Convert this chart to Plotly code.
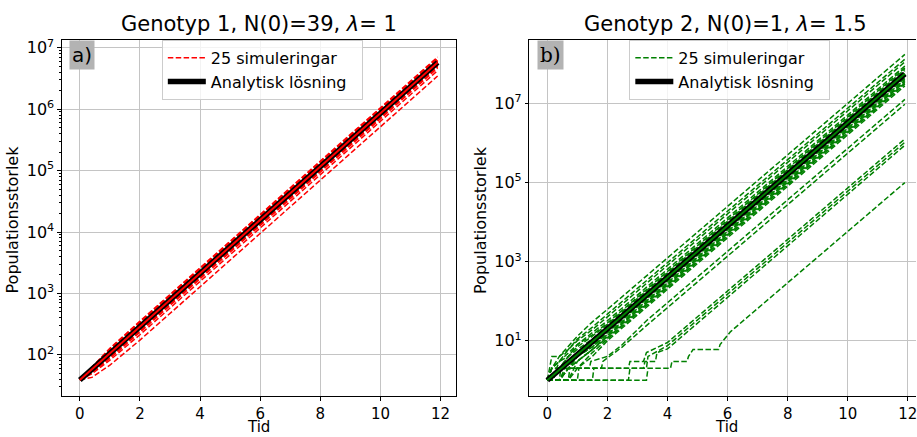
import plotly.graph_objects as go

# ---------------- data ----------------
t_left = [0, 0.4, 1, 2, 11.9]
left_sims = [
    [39, 62, 128, 354, 7.06e6],
    [39, 60, 125, 346, 6.90e6],
    [39, 63, 122, 338, 6.74e6],
    [39, 59, 121, 331, 6.59e6],
    [39, 61, 117, 323, 6.44e6],
    [39, 57, 115, 323, 6.44e6],
    [39, 60, 114, 316, 6.29e6],
    [39, 58, 113, 309, 6.15e6],
    [39, 56, 110, 309, 6.15e6],
    [39, 59, 109, 302, 6.01e6],
    [39, 57, 108, 295, 5.87e6],
    [39, 60, 107, 288, 5.74e6],
    [39, 56, 104, 288, 5.74e6],
    [39, 58, 103, 281, 5.61e6],
    [39, 57, 101, 275, 5.48e6],
    [39, 55, 102, 275, 5.48e6],
    [39, 56, 99, 269, 5.36e6],
    [39, 54, 98, 263, 5.23e6],
    [39, 55, 95, 257, 5.11e6],
    [39, 53, 96, 257, 5.11e6],
    [39, 54, 93, 251, 5.00e6],
    [39, 52, 91, 245, 4.88e6],
    [39, 51, 88, 234, 4.67e6],
    [39, 49, 82, 213, 4.25e6],
    [39, 43, 68, 174, 3.46e6],
]

t_analytic = [0, 11.9]
left_analytic = [39, 5.74e6]
right_analytic = [1, 5.65e7]

t_band = [0, 0.15, 0.4, 0.7, 1.0, 1.5, 2.0, 11.9]
right_band = [
    [1, 2, 4, 7, 13, 30, 62, 1.75e8],
    [1, 4, 4, 6, 11, 22, 47, 1.32e8],
    [1, 2, 3, 6, 10, 19, 40, 1.13e8],
    [1, 1, 3, 5, 8, 16, 32, 8.9e7],
    [1, 2, 2, 4, 8, 14, 28, 8.0e7],
    [1, 1, 2, 4, 7, 13, 26, 7.3e7],
    [1, 2, 3, 4, 6, 11, 24, 6.6e7],
    [1, 1, 2, 3, 5, 10, 22, 6.2e7],
    [1, 1, 2, 3, 5, 10, 20, 5.8e7],
    [1, 2, 2, 3, 4, 9, 19, 5.4e7],
    [1, 1, 1, 3, 4, 8, 18, 5.0e7],
    [1, 1, 2, 2, 4, 8, 17, 4.7e7],
    [1, 1, 1, 2, 4, 7, 16, 4.4e7],
    [1, 1, 2, 3, 4, 7, 14.5, 4.1e7],
    [1, 1, 1, 2, 3, 6, 13.6, 3.8e7],
    [1, 1, 1, 2, 3, 6, 12.7, 3.56e7],
    [1, 1, 1, 1, 3, 6, 11.9, 3.33e7],
    [1, 1, 1, 2, 2, 5, 11, 3.1e7],
    [1, 1, 1, 1, 2, 4, 10, 2.8e7],
]

right_slow_t = [
    [0, 0.7, 0.75, 1.4, 1.45, 2.0, 2.5, 3.3, 11.9],
    [0, 1.0, 1.05, 1.8, 1.85, 2.5, 3.3, 11.9],
    [0, 1.5, 1.55, 2.7, 2.75, 3.2, 3.3, 4.0, 11.9],
    [0, 2.7, 2.75, 3.3, 3.35, 4.0, 11.9],
    [0, 0.4, 0.45, 3.2, 3.25, 3.6, 3.65, 4.0, 11.9],
    [0, 3.3, 3.35, 4.1, 4.15, 4.65, 4.7, 4.85, 5.7, 5.75, 6.1, 11.9],
]
right_slow_n = [
    [1, 1, 2, 2, 3, 4, 8, 32, 1.27e7],
    [1, 1, 2, 2, 3, 7, 24, 9.6e6],
    [1, 1, 2, 2, 3, 3, 5, 9, 1.27e6],
    [1, 1, 2, 2, 4, 7.5, 1.05e6],
    [1, 1, 2, 2, 3, 3, 5, 6.2, 8.8e5],
    [1, 1, 2, 2, 3, 3, 4, 6, 6, 8, 17, 1.0e5],
]

x_ticks = [0, 2, 4, 6, 8, 10, 12]
left_y_exps = [2, 3, 4, 5, 6, 7]
right_y_exps = [1, 3, 5, 7]

titles = ["Genotyp 1, N(0)=39, <i>λ</i>= 1", "Genotyp 2, N(0)=1, <i>λ</i>= 1.5"]
sim_label = "25 simuleringar\u00a0\u00a0"
ana_label = "Analytisk lösning\u00a0\u00a0"

# ---------------- figure ----------------
W, H = 917, 437
FONT = "DejaVu Sans"
RED, GREEN = "#ff0000", "#008000"
DASH = "5.5px,2.4px"

fig = go.Figure()


def add_sims(tlist, ylists, color, xa, ya, leg, first):
    for i, (tt, yy) in enumerate(zip(tlist, ylists)):
        fig.add_trace(go.Scatter(
            x=tt, y=yy, mode="lines", xaxis=xa, yaxis=ya,
            line=dict(color=color, width=1.5, dash=DASH),
            name=sim_label, legend=leg,
            showlegend=(first and i == 0), hoverinfo="skip"))


add_sims([t_left] * len(left_sims), left_sims, RED, "x", "y", "legend", True)
fig.add_trace(go.Scatter(x=t_analytic, y=left_analytic, mode="lines", xaxis="x", yaxis="y",
                         line=dict(color="black", width=5.5), name=ana_label, legend="legend"))
fig.add_trace(go.Scatter(x=t_analytic, y=left_analytic, mode="lines", xaxis="x", yaxis="y",
                         line=dict(color=RED, width=2), showlegend=False, legend="legend"))

add_sims([t_band] * len(right_band), right_band, GREEN, "x2", "y2", "legend2", True)
add_sims(right_slow_t, right_slow_n, GREEN, "x2", "y2", "legend2", False)
fig.add_trace(go.Scatter(x=t_analytic, y=right_analytic, mode="lines", xaxis="x2", yaxis="y2",
                         line=dict(color="black", width=5.5), name=ana_label, legend="legend2"))
fig.add_trace(go.Scatter(x=t_analytic, y=right_analytic, mode="lines", xaxis="x2", yaxis="y2",
                         line=dict(color=GREEN, width=2), showlegend=False, legend="legend2"))

ydom = [1 - 396 / H, 1 - 37 / H]
axis_common = dict(showline=True, linecolor="black", linewidth=1,
                   ticks="outside", ticklen=3.5, tickcolor="black", tickwidth=1,
                   showgrid=True, gridcolor="#c4c4c4", gridwidth=1, zeroline=False,
                   ticklabeloverflow="allow")
xtickfont = dict(family=FONT, size=15, color="black")
ytickfont = dict(family=FONT, size=16, color="black")

left_minor = [k * 10 ** n for n in range(1, 8) for k in range(2, 10)]

fig.update_layout(
    width=W, height=H, margin=dict(l=0, r=0, t=0, b=0),
    paper_bgcolor="white", plot_bgcolor="white",
    font=dict(family=FONT, size=16, color="black"),
    xaxis=dict(domain=[62 / W, 456 / W], range=[-0.595, 12.495], anchor="y", mirror=True,
               tickvals=x_ticks, ticktext=[str(v) for v in x_ticks],
               tickfont=xtickfont, **axis_common),
    yaxis=dict(domain=ydom, type="log", range=[1.326, 7.13], anchor="x", mirror=True,
               tickvals=[10 ** e for e in left_y_exps],
               ticktext=["10<sup>%d</sup>" % e for e in left_y_exps],
               minor=dict(ticks="outside", ticklen=2, tickcolor="black", tickwidth=0.8,
                          tickvals=left_minor, showgrid=False),
               tickfont=ytickfont, **axis_common),
    xaxis2=dict(domain=[530 / W, 1.0], range=[-0.595, -0.595 + 387 / 30.08], anchor="y2", mirror=True,
                tickvals=x_ticks, ticktext=[str(v) for v in x_ticks],
                tickfont=xtickfont, **axis_common),
    yaxis2=dict(domain=ydom, type="log", range=[-0.406, 8.614], anchor="x2", mirror=False,
                tickvals=[10 ** e for e in right_y_exps],
                ticktext=["10<sup>%d</sup>" % e for e in right_y_exps],
                tickfont=ytickfont, **axis_common),
    legend=dict(x=162 / W, y=1 - 37 / H, xanchor="left", yanchor="top",
                bgcolor="rgba(255,255,255,0.8)", bordercolor="#cccccc", borderwidth=1,
                font=dict(family=FONT, size=16, color="black"), itemwidth=38),
    legend2=dict(x=630 / W, y=1 - 37 / H, xanchor="left", yanchor="top",
                 bgcolor="rgba(255,255,255,0.8)", bordercolor="#cccccc", borderwidth=1,
                 font=dict(family=FONT, size=16, color="black"), itemwidth=38),
    showlegend=True,
)

ann = []
# titles
ann.append(dict(text=titles[0], x=259 / W, y=1 - 21 / H, xref="paper", yref="paper",
                xanchor="center", yanchor="middle", showarrow=False,
                font=dict(family=FONT, size=21, color="black")))
ann.append(dict(text=titles[1], x=726.5 / W, y=1 - 21 / H, xref="paper", yref="paper",
                xanchor="center", yanchor="middle", showarrow=False,
                font=dict(family=FONT, size=21, color="black")))
# x-axis titles
ann.append(dict(text="Tid", x=259 / W, y=0, xref="paper", yref="paper",
                xanchor="center", yanchor="bottom", showarrow=False, borderpad=0,
                font=dict(family=FONT, size=15, color="black")))
ann.append(dict(text="Tid", x=727 / W, y=0, xref="paper", yref="paper",
                xanchor="center", yanchor="bottom", showarrow=False, borderpad=0,
                font=dict(family=FONT, size=15, color="black")))
# y-axis titles
ann.append(dict(text="Populationsstorlek", x=13 / W, y=1 - 218 / H, xref="paper", yref="paper",
                xanchor="center", yanchor="middle", textangle=-90, showarrow=False,
                font=dict(family=FONT, size=16, color="black")))
ann.append(dict(text="Populationsstorlek", x=481 / W, y=1 - 218 / H, xref="paper", yref="paper",
                xanchor="center", yanchor="middle", textangle=-90, showarrow=False,
                font=dict(family=FONT, size=16, color="black")))
# panel labels
ann.append(dict(text="a)", x=82 / W, y=1 - 52 / H, xref="paper", yref="paper",
                xanchor="center", yanchor="middle", showarrow=False, bgcolor="#b3b3b3",
                borderpad=2, font=dict(family=FONT, size=20, color="black")))
ann.append(dict(text="b)", x=551 / W, y=1 - 52 / H, xref="paper", yref="paper",
                xanchor="center", yanchor="middle", showarrow=False, bgcolor="#b3b3b3",
                borderpad=2, font=dict(family="DejaVu Serif", size=20, color="black")))
fig.update_layout(annotations=ann)

fig.write_html("out.html")
